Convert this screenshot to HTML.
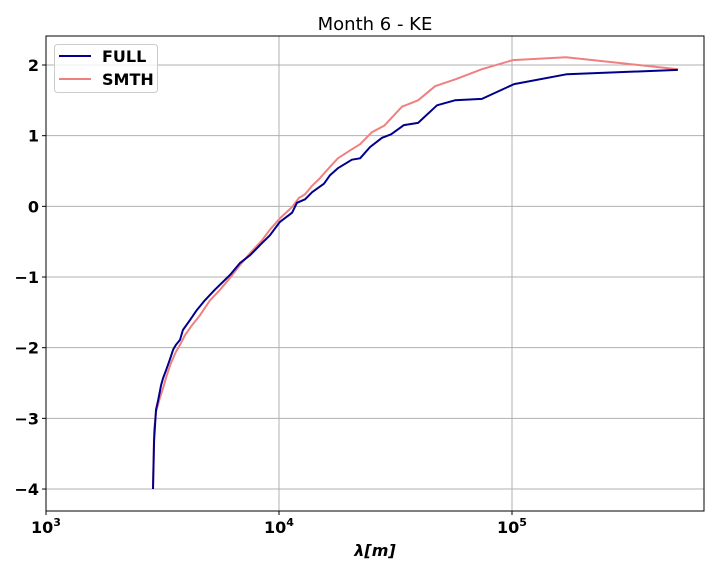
<!DOCTYPE html>
<html><head><meta charset="utf-8"><style>
body{margin:0;background:#fff;}
svg text{font-family:"DejaVu Sans","Liberation Sans",sans-serif;}
</style></head><body>
<svg id="chart" width="720" height="576" xmlns="http://www.w3.org/2000/svg">
<rect width="720" height="576" fill="#fff"/>
<text x="375" y="30" font-size="18" text-anchor="middle">Month 6 - KE</text>
<g id="grid"></g>
<g id="series"></g>
<rect x="46" y="36" width="658" height="475" fill="none" stroke="#000" stroke-width="1"/>
<g id="ticks"></g>
<text x="375" y="556" font-size="16" font-weight="bold" font-style="italic" text-anchor="middle">λ[m]</text>
<g>
<rect x="54.5" y="44.5" width="103" height="48" rx="3" fill="#fff" fill-opacity="0.8" stroke="#ccc"/>
<line x1="59" y1="56" x2="91" y2="56" stroke="#00008b" stroke-width="2"/>
<text x="102" y="62" font-size="16" font-weight="bold">FULL</text>
<line x1="59" y1="79" x2="91" y2="79" stroke="#f08080" stroke-width="2"/>
<text x="102" y="85" font-size="16" font-weight="bold">SMTH</text>
</g>
</svg>
<script>
const fullX=[2880,2910,2965,3030,3120,3180,3300,3400,3510,3610,3760,3870,4150,4410,4810,5310,6170,6810,7520,8450,9140,10090,11380,11940,12940,13870,15600,16560,17900,20560,22280,24600,27670,30270,34360,39540,47640,56890,74300,102100,172200,515200];
const fullY=[-4.0,-3.31,-2.88,-2.74,-2.53,-2.43,-2.29,-2.17,-2.03,-1.96,-1.89,-1.75,-1.61,-1.48,-1.33,-1.18,-0.97,-0.80,-0.69,-0.52,-0.41,-0.22,-0.09,0.05,0.10,0.20,0.32,0.44,0.54,0.66,0.68,0.84,0.97,1.02,1.15,1.18,1.43,1.50,1.52,1.73,1.87,1.93];
const smthX=[2880,2910,2965,3083,3180,3300,3436,3610,3760,3954,4236,4581,5058,5585,6170,6810,7520,8450,9140,10090,11380,12190,12940,13870,15000,16560,17900,20370,22280,25060,28250,33730,39540,46770,57540,74300,100900,170600,515200];
const smthY=[-4.0,-3.16,-2.91,-2.71,-2.57,-2.39,-2.22,-2.06,-1.96,-1.82,-1.68,-1.54,-1.33,-1.18,-1.01,-0.83,-0.66,-0.48,-0.33,-0.17,-0.01,0.12,0.17,0.29,0.40,0.56,0.68,0.80,0.88,1.05,1.14,1.41,1.50,1.70,1.80,1.94,2.07,2.11,1.94];
const yTicks=[-4,-3,-2,-1,0,1,2];
const xTickExp=[3,4,5];
const NS="http://www.w3.org/2000/svg";
const X=v=>46+(Math.log10(v)-3)*233;
const Y=v=>65+(2-v)*70.67;
function mk(tag,attrs,parent){const e=document.createElementNS(NS,tag);for(const k in attrs)e.setAttribute(k,attrs[k]);parent.appendChild(e);return e;}
const grid=document.getElementById('grid'),ticks=document.getElementById('ticks'),series=document.getElementById('series');
yTicks.forEach(t=>{const y=Y(t);
 const g=mk('line',{x1:46,x2:704,y1:y,y2:y,stroke:'#b0b0b0','stroke-width':1},grid);
 
 
 mk('line',{x1:42,x2:46,y1:y,y2:y,stroke:'#000'},ticks);
 const tx=mk('text',{x:39,y:y+6,'font-size':16,'font-weight':'bold','text-anchor':'end'},ticks);
 tx.textContent=(t<0?'\u2212'+(-t):t);
 
 
});
xTickExp.forEach(e=>{const x=X(Math.pow(10,e));
 const g=mk('line',{x1:x,x2:x,y1:36,y2:511,stroke:'#b0b0b0','stroke-width':1},grid);
 
 
 mk('line',{x1:x,x2:x,y1:511,y2:515,stroke:'#000'},ticks);
 const tx=mk('text',{x:x,y:533,'font-size':16,'font-weight':'bold','text-anchor':'middle'},ticks);
 tx.innerHTML='10<tspan font-size="11" dy="-7">'+e+'</tspan>';
 
 
});
function line(xs,ys,color,name){
 const p=mk('polyline',{points:xs.map((v,i)=>X(v).toFixed(1)+','+Y(ys[i]).toFixed(1)).join(' '),fill:'none',stroke:color,'stroke-width':2,'stroke-linejoin':'round'},series);
 
 
}
line(smthX,smthY,'#f08080','smth-line');
line(fullX,fullY,'#00008b','full-line');
</script>
</body></html>
